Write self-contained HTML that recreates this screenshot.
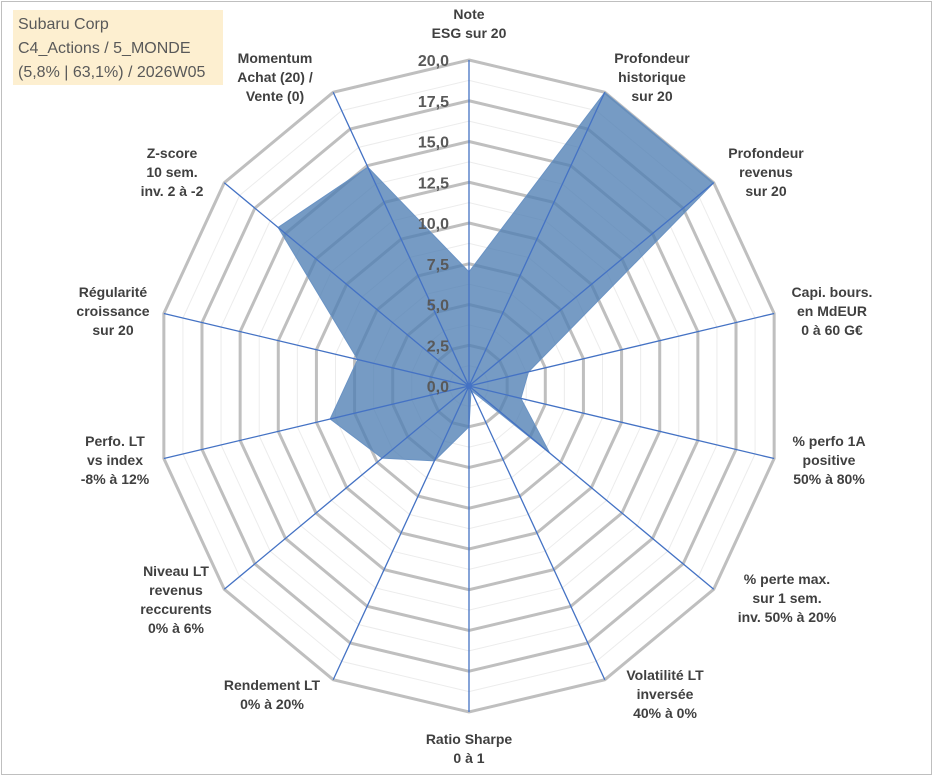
<!DOCTYPE html>
<html><head><meta charset="utf-8"><style>
body{margin:0;background:#fff}
#wrap{position:relative;width:933px;height:776px;overflow:hidden;font-family:"Liberation Sans",sans-serif}
#frame{position:absolute;left:1px;top:1px;width:929px;height:772px;border:1px solid #bfbfbf}
#title{position:absolute;left:13px;top:10px;width:210px;height:75px;background:#fdefd0;color:#595959;font-size:16px;line-height:24px;padding-left:5px;box-sizing:border-box;padding-top:3px}
.lab{position:absolute;font-size:14px;font-weight:bold;color:#404040;text-align:center;line-height:19px;white-space:nowrap;transform:translateX(-50%)}
</style></head><body>
<div id="wrap">
<div id="frame"></div>
<svg id="svg" width="933" height="776" style="position:absolute;left:0;top:0"></svg>
<div id="title">Subaru Corp<br>C4_Actions / 5_MONDE<br>(5,8% | 63,1%) / 2026W05</div>
<div class="lab" style="left:469px;top:5px">Note<br>ESG sur 20</div>
<div class="lab" style="left:652px;top:49px">Profondeur<br>historique<br>sur 20</div>
<div class="lab" style="left:766px;top:144px">Profondeur<br>revenus<br>sur 20</div>
<div class="lab" style="left:832px;top:283px">Capi. bours.<br>en MdEUR<br>0 à 60 G€</div>
<div class="lab" style="left:829px;top:432px">% perfo 1A<br>positive<br>50% à 80%</div>
<div class="lab" style="left:787px;top:570px">% perte max.<br>sur 1 sem.<br>inv. 50% à 20%</div>
<div class="lab" style="left:665px;top:666px">Volatilité LT<br>inversée<br>40% à 0%</div>
<div class="lab" style="left:469px;top:730px">Ratio Sharpe<br>0 à 1</div>
<div class="lab" style="left:272px;top:676px">Rendement LT<br>0% à 20%</div>
<div class="lab" style="left:176px;top:562px">Niveau LT<br>revenus<br>reccurents<br>0% à 6%</div>
<div class="lab" style="left:115px;top:432px">Perfo. LT<br>vs index<br>-8% à 12%</div>
<div class="lab" style="left:113px;top:283px">Régularité<br>croissance<br>sur 20</div>
<div class="lab" style="left:172px;top:144px">Z-score<br>10 sem.<br>inv. 2 à -2</div>
<div class="lab" style="left:275px;top:49px">Momentum<br>Achat (20) /<br>Vente (0)</div>
</div>
<script>
const categories=["ESG","Prof. hist","Prof. rev","Capi","Perfo 1A","Perte max","Volatilite","Sharpe","Rendement","Niveau","Perfo LT","Regularite","Z-score","Momentum"];
const values=[7.0,20,20,3.9,3.4,6.6,0.3,2.5,5.1,7.1,9.1,7.3,15.6,14.9];
const tickValues=[0,2.5,5,7.5,10,12.5,15,17.5,20];
const tickLabels=["0,0","2,5","5,0","7,5","10,0","12,5","15,0","17,5","20,0"];
const maxV=20;
const svg=document.getElementById('svg');
const NS='http://www.w3.org/2000/svg';
const cx=469,cy=386,RY=326,RX=313,N=categories.length;
function pt(i,v){const a=i*2*Math.PI/N;const f=v/maxV;return [cx+RX*f*Math.sin(a),cy-RY*f*Math.cos(a)];}
function mk(t,attrs){const e=document.createElementNS(NS,t);for(const k in attrs)e.setAttribute(k,attrs[k]);svg.appendChild(e);return e;}
for(let v=1.25;v<maxV;v+=2.5){const p=[];for(let i=0;i<N;i++)p.push(pt(i,v).join(','));
const e=mk('polygon',{points:p.join(' '),fill:'none',stroke:'#ececec','stroke-width':1});

}
tickValues.forEach(v=>{if(v===0)return;const p=[];for(let i=0;i<N;i++)p.push(pt(i,v).join(','));
const e=mk('polygon',{points:p.join(' '),fill:'none',stroke:'#bfbfbf','stroke-width':3});

});
const sp=values.map((v,i)=>pt(i,v).join(',')).join(' ');
const poly=mk('polygon',{points:sp,fill:'#4f7fb4','fill-opacity':0.78,stroke:'#6a93c4','stroke-width':1});


for(let i=0;i<N;i++){const [x,y]=pt(i,maxV);
const l=mk('line',{x1:cx,y1:cy,x2:x,y2:y,stroke:'#4472c4','stroke-width':1.3});

}
const c=mk('circle',{cx:cx,cy:cy,r:3,fill:'#4472c4'});


tickValues.forEach((v,j)=>{const y=cy-v/maxV*RY+6;
const t=mk('text',{x:449,y:y,'text-anchor':'end','font-family':'Liberation Sans, sans-serif','font-size':16,'font-weight':'bold',fill:'#595959'});
t.textContent=tickLabels[j];

});
</script>
</body></html>
